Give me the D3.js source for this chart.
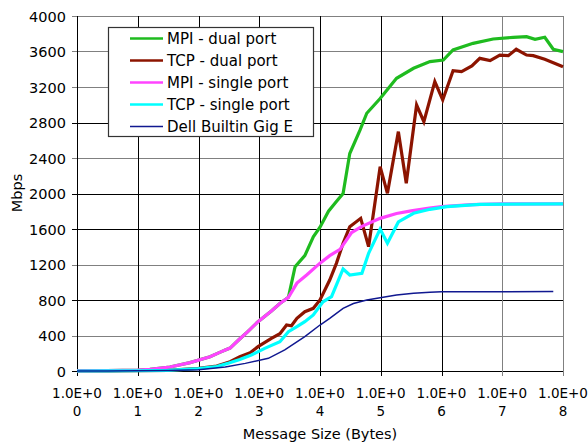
<!doctype html>
<html>
<head>
<meta charset="UTF-8">
<title>Mbps vs message size</title>
<script src="https://d3js.org/d3.v7.min.js"></script>
<style>
  body { margin: 0; background: #fff; }
  text { font-family: "DejaVu Sans", Verdana, sans-serif; fill: #000; }
</style>
</head>
<body>
<svg id="chart" width="588" height="443"></svg>
<script>
// message size as power of ten (bytes = 10^x), throughput in Mbps
var seriesNames = ["MPI - dual port", "TCP - dual port", "MPI - single port", "TCP - single port", "Dell Builtin Gig E"];
var seriesColors = ["#1fbb1f", "#8c1400", "#ff44ff", "#00ffff", "#101890"];
var seriesWidths = [3.2, 3.2, 3.2, 3.2, 1.5];

var mpiDualX = [0, 0.5, 1.0, 1.2, 1.53, 1.86, 2.19, 2.35, 2.44, 2.52, 2.66, 2.82, 2.98, 3.2, 3.34, 3.48, 3.59, 3.75, 3.89, 4.0, 4.14, 4.27, 4.38, 4.49, 4.66, 4.77, 4.99, 5.26, 5.54, 5.81, 6.03, 6.19, 6.52, 6.85, 7.18, 7.4, 7.54, 7.7, 7.84, 8.0];
var mpiDualY = [2, 4, 10, 19, 45, 94, 161, 210, 237, 258, 349, 450, 556, 676, 760, 830, 1175, 1300, 1513, 1620, 1800, 1910, 2000, 2450, 2716, 2904, 3070, 3298, 3411, 3486, 3504, 3617, 3692, 3741, 3760, 3767, 3737, 3760, 3625, 3598];

var tcpDualX = [0, 0.5, 1.0, 1.5, 2.0, 2.3, 2.52, 2.68, 2.85, 2.98, 3.2, 3.34, 3.45, 3.53, 3.62, 3.75, 3.89, 4.0, 4.16, 4.27, 4.38, 4.49, 4.67, 4.8, 4.99, 5.11, 5.29, 5.42, 5.59, 5.71, 5.89, 6.02, 6.19, 6.33, 6.5, 6.63, 6.8, 6.96, 7.1, 7.23, 7.4, 7.51, 7.7, 7.84, 8.0];
var tcpDualY = [0, 1, 3, 8, 30, 55, 105, 161, 206, 274, 368, 420, 518, 510, 594, 668, 706, 800, 1025, 1213, 1439, 1626, 1720, 1401, 2302, 2002, 2697, 2115, 2997, 2809, 3260, 3054, 3384, 3373, 3437, 3523, 3497, 3560, 3553, 3625, 3560, 3553, 3512, 3474, 3429];

var mpiSingleX = [0, 0.5, 1.0, 1.2, 1.53, 1.86, 2.19, 2.35, 2.44, 2.52, 2.66, 2.82, 2.98, 3.2, 3.34, 3.48, 3.62, 3.78, 4.0, 4.16, 4.33, 4.52, 4.69, 4.99, 5.26, 5.5, 5.8, 6.0, 6.5, 7.0, 8.0];
var mpiSingleY = [2, 4, 10, 19, 45, 94, 161, 210, 237, 258, 349, 450, 556, 676, 760, 830, 990, 1082, 1215, 1300, 1370, 1560, 1630, 1720, 1775, 1805, 1835, 1852, 1875, 1882, 1882];

var tcpSingleX = [0, 0.5, 1.0, 1.5, 2.0, 2.3, 2.5, 2.68, 2.87, 3.09, 3.34, 3.48, 3.62, 3.75, 3.89, 4.05, 4.19, 4.38, 4.49, 4.69, 4.8, 4.99, 5.11, 5.29, 5.54, 5.81, 6.09, 6.63, 8.0];
var tcpSingleY = [0, 1, 3, 8, 28, 50, 90, 130, 180, 255, 330, 443, 500, 556, 631, 780, 837, 1150, 1082, 1101, 1326, 1600, 1439, 1680, 1777, 1822, 1852, 1878, 1882];

var dellX = [0, 0.5, 1.0, 1.5, 2.0, 2.44, 2.77, 3.15, 3.42, 3.75, 4.0, 4.16, 4.38, 4.55, 4.77, 4.99, 5.26, 5.54, 5.81, 6.0, 7.84];
var dellY = [0, 1, 2, 5, 15, 45, 86, 143, 237, 387, 518, 594, 706, 760, 800, 826, 856, 875, 887, 893, 895];

var xTicks = [0, 1, 2, 3, 4, 5, 6, 7, 8];
var yTicks = [0, 400, 800, 1200, 1600, 2000, 2400, 2800, 3200, 3600, 4000];

var seriesX = [mpiDualX, tcpDualX, mpiSingleX, tcpSingleX, dellX];
var seriesY = [mpiDualY, tcpDualY, mpiSingleY, tcpSingleY, dellY];

var plotL = 77, plotR = 563, plotT = 16, plotB = 371;
var fs = 15, tickFs = 14.5, xTickFs = 13.5;
var svg = d3.select("#chart");

var x = d3.scaleLinear().domain([0, 8]).range([plotL, plotR]);
var y = d3.scaleLinear().domain([0, 4000]).range([plotB, plotT]);

// grid lines (some render gray, some black in the original)
var grayH = [400, 1200, 2400, 3200, 3600, 4000];
var grayV = [7, 8];

svg.append("g").selectAll("line").data(yTicks).enter().append("line")
  .attr("x1", plotL - 5).attr("x2", plotR + 0.5)
  .attr("y1", function(d){ return Math.round(y(d)) + 0.5; })
  .attr("y2", function(d){ return Math.round(y(d)) + 0.5; })
  .attr("stroke", function(d){ return grayH.indexOf(d) >= 0 ? "#808080" : "#000"; })
  .attr("stroke-width", 1);

svg.append("g").selectAll("line").data(xTicks).enter().append("line")
  .attr("x1", function(d){ return Math.round(x(d)) + 0.5; })
  .attr("x2", function(d){ return Math.round(x(d)) + 0.5; })
  .attr("y1", plotT).attr("y2", plotB + 5)
  .attr("stroke", function(d){ return grayV.indexOf(d) >= 0 ? "#808080" : "#000"; })
  .attr("stroke-width", 1);

// y tick labels
svg.append("g").selectAll("text").data(yTicks).enter().append("text")
  .attr("x", 66)
  .attr("y", function(d){ return y(d) + 5.5; })
  .attr("text-anchor", "end")
  .attr("font-size", tickFs)
  .text(function(d){ return d; });

// x tick labels, two lines
var xl = svg.append("g").selectAll("text").data(xTicks).enter().append("text")
  .attr("text-anchor", "middle")
  .attr("font-size", xTickFs);
xl.append("tspan").attr("x", function(d){ return x(d); }).attr("y", 398).text("1.0E+0");
xl.append("tspan").attr("x", function(d){ return x(d); }).attr("y", 416).text(function(d){ return d; });

svg.append("text")
  .attr("x", (plotL + plotR) / 2).attr("y", 438.5)
  .attr("text-anchor", "middle").attr("font-size", tickFs)
  .text("Message Size (Bytes)");

svg.append("text")
  .attr("transform", "translate(22,193) rotate(-90)")
  .attr("text-anchor", "middle").attr("font-size", tickFs)
  .text("Mbps");

// series
var line = d3.line()
  .x(function(d){ return x(d[0]); })
  .y(function(d){ return y(d[1]); });

for (var i = 0; i < seriesNames.length; i++) {
  var pts = seriesX[i].map(function(v, j){ return [v, seriesY[i][j]]; });
  svg.append("path")
    .datum(pts)
    .attr("d", line)
    .attr("fill", "none")
    .attr("stroke", seriesColors[i])
    .attr("stroke-width", seriesWidths[i])
    .attr("stroke-linejoin", "miter");
}

// legend
var lg = svg.append("g");
lg.append("rect")
  .attr("x", 108.5).attr("y", 27.5).attr("width", 205).attr("height", 109)
  .attr("fill", "#fff").attr("stroke", "#333").attr("stroke-width", 1.2);
for (var k = 0; k < seriesNames.length; k++) {
  var ly = 38.5 + k * 22;
  lg.append("line")
    .attr("x1", 130).attr("x2", 163)
    .attr("y1", ly).attr("y2", ly)
    .attr("stroke", seriesColors[k])
    .attr("stroke-width", k < 4 ? 2.5 : 1.5);
  lg.append("text")
    .attr("x", 167).attr("y", ly + 5.5)
    .attr("font-size", fs)
    .text(seriesNames[k]);
}
</script>
</body>
</html>
